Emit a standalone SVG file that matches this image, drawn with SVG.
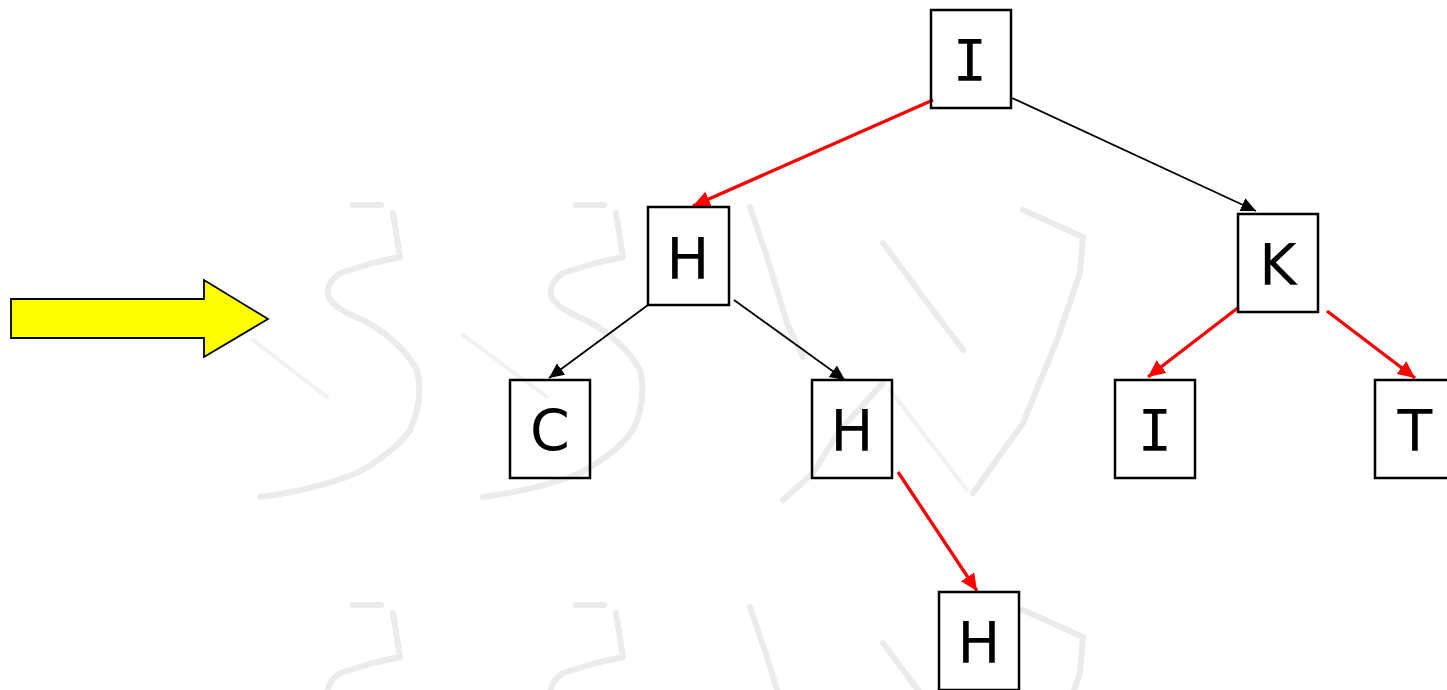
<svg xmlns="http://www.w3.org/2000/svg" width="1447" height="690" viewBox="0 0 1447 690">
  <style>
    .wm { fill: none; stroke: #ebebeb; stroke-width: 6; stroke-linecap: round; stroke-linejoin: round; }
    .wm-faint { fill: none; stroke: #f1f1f1; stroke-width: 4; stroke-linecap: round; }
    .box { fill: none; stroke: #000; stroke-width: 2.5; }
    .lbl { font-family: "DejaVu Sans", "Verdana", sans-serif; font-size: 57px; fill: #000; text-anchor: middle; }
    .lbl-i { font-family: "DejaVu Sans Mono", monospace; font-size: 57px; fill: #000; text-anchor: middle; }
    .edge-red { fill: none; stroke: #ff0000; stroke-width: 3.3; }
    .edge-black { fill: none; stroke: #000; stroke-width: 1.8; }
  </style>
  <defs>
    <marker id="headRed" markerUnits="userSpaceOnUse" markerWidth="20" markerHeight="18" refX="17" refY="8" orient="auto">
      <path d="M0,0 L17,8 L0,16 Z" fill="#ff0000"/>
    </marker>
    <marker id="headBlack" markerUnits="userSpaceOnUse" markerWidth="18" markerHeight="16" refX="15" refY="7" orient="auto">
      <path d="M0,0 L15,7 L0,14 Z" fill="#000"/>
    </marker>
    <!-- faint background lettering, one row -->
    <g id="wmRow">
      <path class="wm" d="M353,205 L381,205"/>
      <path class="wm" d="M393,213 L400,257 L373,263 L340,273 Q326,283 328,295 Q332,308 363,320 Q400,340 417,370 Q424,400 410,430 Q395,452 357,473 Q315,490 260,497"/>
      <path class="wm-faint" d="M253,340 L327,397"/>
      <path class="wm" d="M576,205 L604,205"/>
      <path class="wm" d="M616,213 L623,257 L596,263 L563,273 Q549,283 551,295 Q555,308 586,320 Q623,340 640,370 Q647,400 633,430 Q618,452 580,473 Q538,490 483,497"/>
      <path class="wm-faint" d="M463,335 L547,397"/>
      <path class="wm" d="M750,207 L767,257 L787,323 L803,357"/>
      <path class="wm" d="M883,243 L923,297 L963,350"/>
      <path class="wm" d="M1023,210 L1083,237 L1080,273 L1057,340 L1023,423 L973,493"/>
      <path class="wm" d="M883,383 L840,430 L813,473 L783,500"/>
      <path class="wm-faint" d="M890,390 L967,490"/>
    </g>
  </defs>

  <!-- background lettering -->
  <g id="watermark">
    <use href="#wmRow"/>
    <use href="#wmRow" transform="translate(0,400)"/>
  </g>

  <!-- yellow block arrow -->
  <g id="pointer">
    <polygon points="11,299 204,299 204,280 268,319 204,357 204,338 11,338" fill="#ffff00" stroke="#000" stroke-width="1.8" stroke-linejoin="miter"/>
  </g>

  <!-- connectors -->
  <g id="connectors">
    <line class="edge-red" x1="933" y1="100" x2="693" y2="206" marker-end="url(#headRed)"/>
    <line class="edge-black" x1="1012" y1="98" x2="1256" y2="211" marker-end="url(#headBlack)"/>
    <line class="edge-black" x1="648" y1="305" x2="549" y2="378" marker-end="url(#headBlack)"/>
    <line class="edge-black" x1="734" y1="300" x2="845" y2="380" marker-end="url(#headBlack)"/>
    <line class="edge-red" x1="898" y1="472" x2="977" y2="591" marker-end="url(#headRed)"/>
    <line class="edge-red" x1="1239" y1="307" x2="1148" y2="377" marker-end="url(#headRed)"/>
    <line class="edge-red" x1="1327" y1="311" x2="1415" y2="378" marker-end="url(#headRed)"/>
  </g>

  <!-- nodes -->
  <g id="node-root-I">
    <rect class="box" x="931" y="10" width="80" height="98"/>
    <text class="lbl-i" x="970" y="81">I</text>
  </g>
  <g id="node-H1">
    <rect class="box" x="648" y="207" width="81" height="98"/>
    <text class="lbl" x="688" y="279">H</text>
  </g>
  <g id="node-K">
    <rect class="box" x="1238" y="214" width="80" height="98"/>
    <text class="lbl" x="1278" y="285">K</text>
  </g>
  <g id="node-C">
    <rect class="box" x="510" y="380" width="80" height="98"/>
    <text class="lbl" x="550" y="451">C</text>
  </g>
  <g id="node-H2">
    <rect class="box" x="812" y="380" width="80" height="98"/>
    <text class="lbl" x="852" y="451">H</text>
  </g>
  <g id="node-I2">
    <rect class="box" x="1115" y="380" width="80" height="98"/>
    <text class="lbl-i" x="1155" y="451">I</text>
  </g>
  <g id="node-T">
    <rect class="box" x="1375" y="380" width="80" height="98"/>
    <text class="lbl" x="1415" y="451">T</text>
  </g>
  <g id="node-H3">
    <rect class="box" x="939" y="592" width="80" height="98"/>
    <text class="lbl" x="979" y="663">H</text>
  </g>
</svg>
